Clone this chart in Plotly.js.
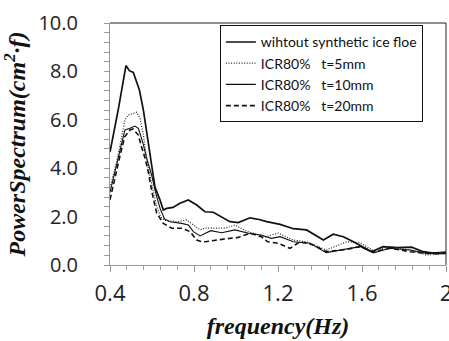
<!DOCTYPE html>
<html><head><meta charset="utf-8">
<script src="https://cdn.plot.ly/plotly-3.0.1.min.js"></script>
<style>body{margin:0;background:#fff}#chart{width:449px;height:341px}</style>
</head><body><div id="chart"></div>
<script>
const seriesNames = ["wihtout synthetic ice floe", "ICR80%\u00a0\u00a0 t=5mm", "ICR80%\u00a0\u00a0 t=10mm", "ICR80%\u00a0\u00a0 t=20mm"];

const freqA = [0.40,0.44,0.476,0.492,0.511,0.54,0.559,0.575,0.594,0.614,0.638,0.654,0.67,0.70,0.733,0.773,0.813,0.852,0.892,0.932,0.971,1.011,1.067,1.11,1.146,1.21,1.273,1.336,1.376,1.416,1.463,1.511,1.559,1.606,1.646,1.70,1.765,1.836,1.892,1.955,2.0];
const specA = [4.67,6.45,8.24,8.03,7.96,7.23,6.40,5.45,4.34,3.22,2.69,2.27,2.34,2.38,2.55,2.69,2.48,2.20,2.18,2.00,1.79,1.75,1.95,1.88,1.79,1.68,1.50,1.45,1.24,1.03,1.27,1.17,0.96,0.72,0.55,0.76,0.72,0.74,0.55,0.47,0.50];

const freqB = [0.40,0.432,0.448,0.463,0.471,0.487,0.51,0.527,0.543,0.559,0.57,0.582,0.60,0.62,0.64,0.66,0.686,0.725,0.765,0.797,0.829,0.852,0.90,0.948,0.995,1.05,1.10,1.14,1.20,1.273,1.336,1.43,1.527,1.59,1.654,1.733,1.83,1.908,2.0];
const specB = [3.20,4.27,4.96,5.71,5.99,6.20,6.28,6.31,6.06,5.37,4.68,4.00,3.30,2.50,2.00,1.85,1.82,1.79,1.86,1.65,1.45,1.52,1.53,1.52,1.65,1.40,1.26,1.16,1.32,1.03,0.96,0.62,0.96,0.92,0.60,0.76,0.62,0.41,0.48];

const freqC = [0.40,0.43,0.45,0.471,0.495,0.519,0.535,0.555,0.575,0.598,0.62,0.64,0.66,0.686,0.741,0.773,0.797,0.829,0.852,0.88,0.932,0.995,1.06,1.12,1.168,1.21,1.273,1.352,1.43,1.527,1.59,1.654,1.733,1.83,1.908,2.0];
const specC = [3.00,4.10,4.80,5.58,5.65,5.74,5.65,5.10,4.41,3.72,2.90,2.30,1.90,1.79,1.72,1.65,1.38,1.20,1.30,1.42,1.33,1.45,1.31,1.24,1.10,1.17,0.96,0.90,0.51,0.65,0.76,0.50,0.69,0.62,0.48,0.55];

const freqD = [0.40,0.43,0.45,0.47,0.495,0.51,0.535,0.55,0.567,0.582,0.60,0.622,0.654,0.694,0.741,0.781,0.813,0.837,0.852,0.932,1.011,1.067,1.12,1.151,1.20,1.257,1.305,1.368,1.43,1.527,1.59,1.654,1.733,1.83,1.908,2.0];
const specD = [2.70,3.90,4.60,5.30,5.58,5.62,5.37,4.89,4.41,3.86,3.00,2.15,1.72,1.52,1.52,1.38,1.03,0.96,0.96,1.06,1.14,1.31,1.17,0.96,0.90,0.69,0.96,0.83,0.55,0.65,0.76,0.55,0.69,0.55,0.48,0.48];

const traces = [
  {x: freqA, y: specA, name: seriesNames[0], mode: 'lines', line: {color: '#111', width: 1.7}},
  {x: freqB, y: specB, name: seriesNames[1], mode: 'lines', line: {color: '#222', width: 1.2, dash: '1px,1.6px'}},
  {x: freqC, y: specC, name: seriesNames[2], mode: 'lines', line: {color: '#111', width: 1.1}},
  {x: freqD, y: specD, name: seriesNames[3], mode: 'lines', line: {color: '#111', width: 1.6, dash: '5px,3px'}}
];

const layout = {
  width: 449, height: 341,
  margin: {l: 110, r: 3, t: 23, b: 76},
  paper_bgcolor: '#fff', plot_bgcolor: '#fff',
  showlegend: true,
  legend: {x: 0.327, y: 0.99, xanchor: 'left', yanchor: 'top', bordercolor: '#111', borderwidth: 1,
           bgcolor: '#fff', font: {family: 'Lato', size: 14, color: '#111'}, tracegroupgap: 0},
  xaxis: {
    range: [0.4, 2.0], tick0: 0.4, dtick: 0.4, ticks: 'outside', ticklen: 6, tickcolor: '#999',
    showline: true, linecolor: '#999', linewidth: 1, showgrid: false, zeroline: false, automargin: false,
    ticklabeloverflow: 'allow', ticklabelstandoff: 3,
    minor: {dtick: 0.08, ticks: 'outside', ticklen: 4, tickcolor: '#999'},
    tickfont: {family: 'Open Sans', size: 22, color: '#222'},
    title: {text: '<b><i>frequency(Hz)</i></b>', font: {family: 'Liberation Serif', size: 24, color: '#111'}, standoff: 10}
  },
  yaxis: {
    range: [0, 10], dtick: 2, tickformat: '.1f', ticks: 'outside', ticklen: 5, tickcolor: '#999',
    showline: true, linecolor: '#999', linewidth: 1, showgrid: false, zeroline: false, automargin: false,
    minor: {dtick: 0.4, ticks: 'outside', ticklen: 5, tickcolor: '#999'},
    tickfont: {family: 'Open Sans', size: 20, color: '#222'},
    ticklabelstandoff: 22,
    title: {text: '<b><i>PowerSpectrum(cm<sup>2</sup>·f)</i></b>', font: {family: 'Liberation Serif', size: 24, color: '#111'}, standoff: 6}
  },
  shapes: [
    {type: 'line', xref: 'paper', yref: 'paper', x0: 0, x1: 1, y0: 1, y1: 1, line: {color: '#222', width: 1}},
    {type: 'line', xref: 'paper', yref: 'paper', x0: 1, x1: 1, y0: 0, y1: 1, line: {color: '#222', width: 1}}
  ]
};

Plotly.newPlot('chart', traces, layout, {displayModeBar: false, staticPlot: true});
</script></body></html>
